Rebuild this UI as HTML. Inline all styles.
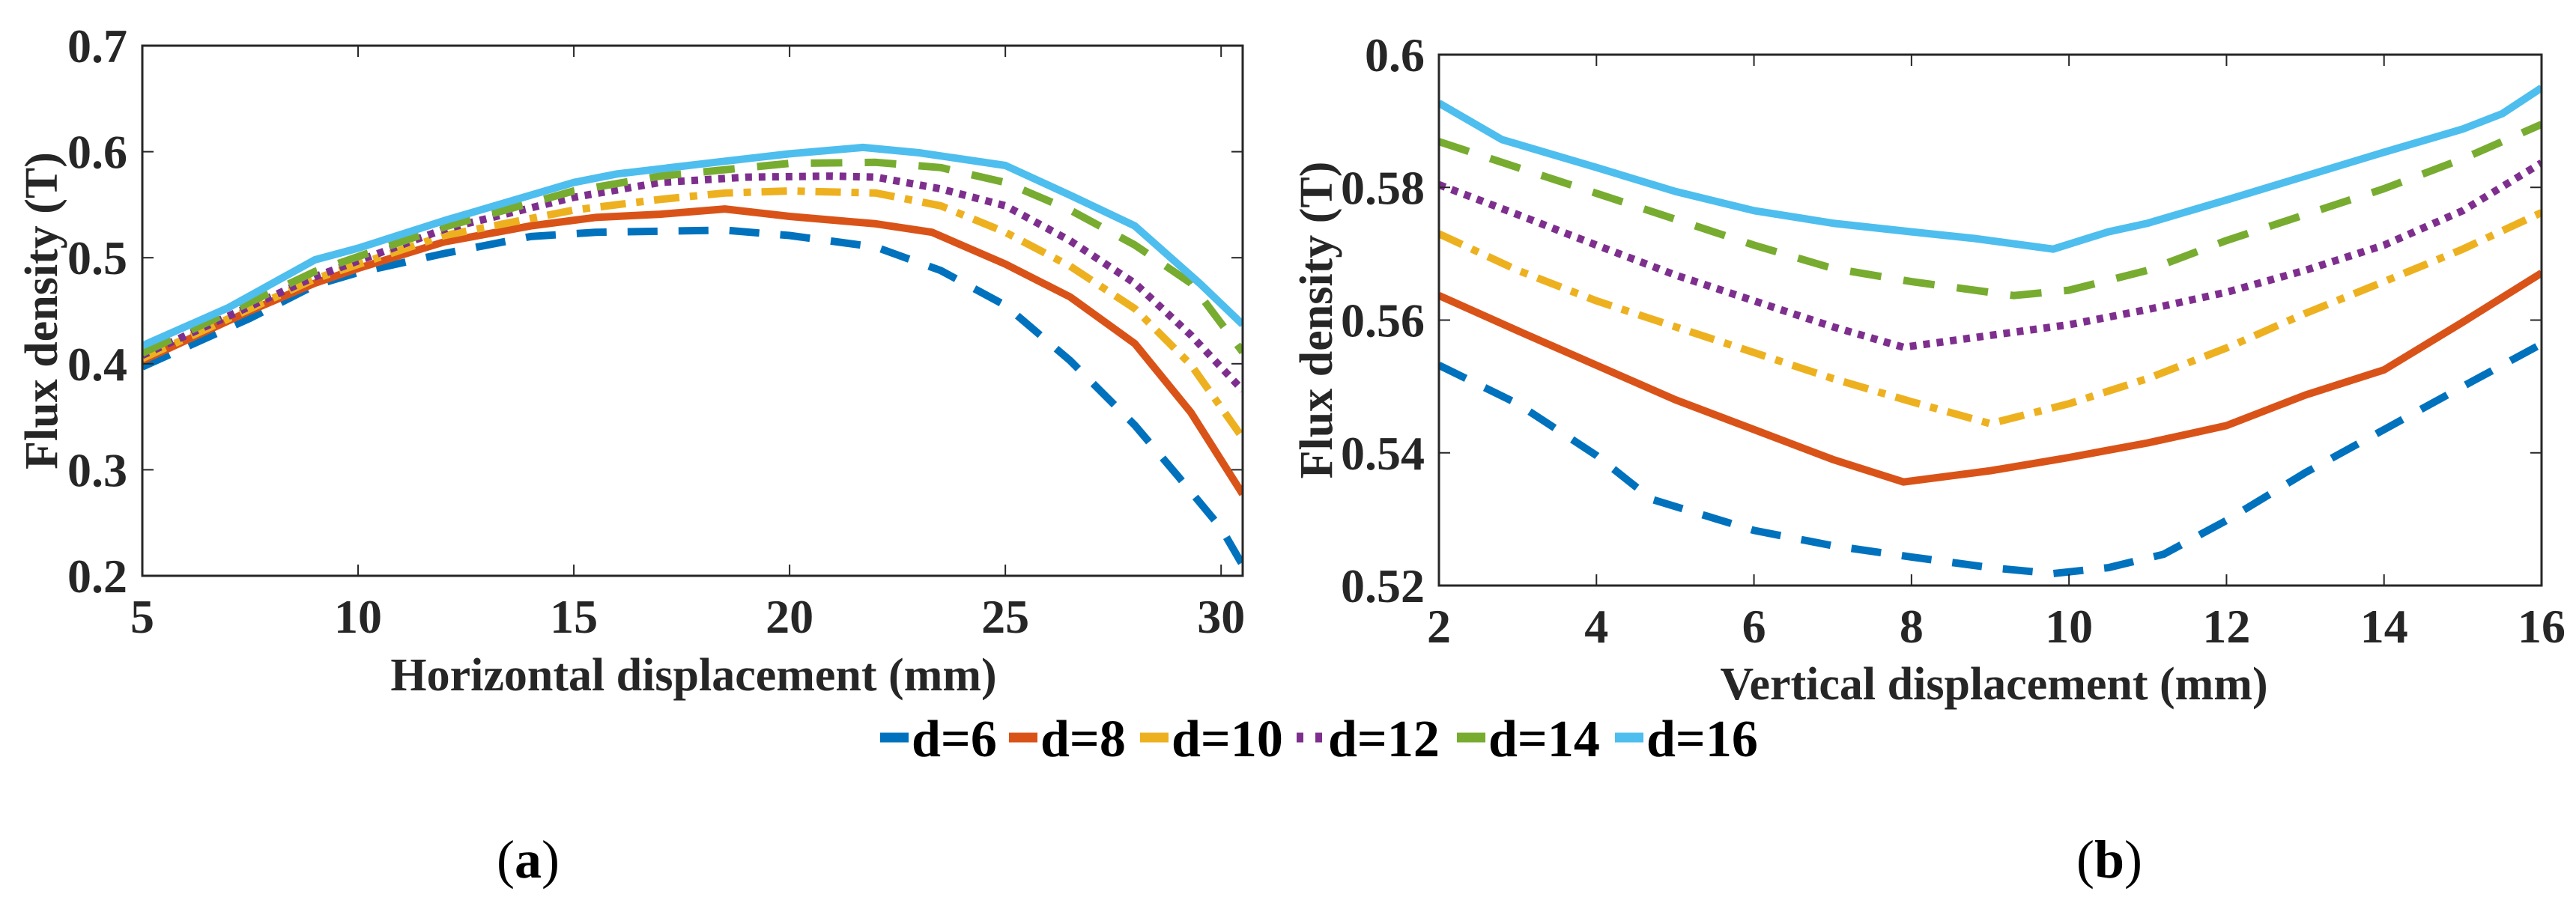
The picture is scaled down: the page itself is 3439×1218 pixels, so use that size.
<!DOCTYPE html>
<html><head><meta charset="utf-8"><style>
html,body{margin:0;padding:0;background:#fff;}
svg{display:block;font-family:"Liberation Serif",serif;}
</style></head><body>
<svg id="fig" width="3439" height="1218" viewBox="0 0 3439 1218" xmlns="http://www.w3.org/2000/svg">
<g id="chartA"></g>
<g id="chartB"></g>
<g id="legend"></g>
<text x="705" y="1172" font-size="72" text-anchor="middle" fill="#000">(<tspan font-weight="bold">a</tspan>)</text>
<text x="2816" y="1172" font-size="72" text-anchor="middle" fill="#000">(<tspan font-weight="bold">b</tspan>)</text>
</svg>
<script>
const seriesNames = ["d=6","d=8","d=10","d=12","d=14","d=16"];
const colors = ["#0072BD","#D95319","#EDB120","#7E2F8E","#77AC30","#4DBEEE"];
const dashes = ["40 28","none","34 14 10 14","9 9","42 30","none"];

const aTicksX = [5,10,15,20,25,30];
const aTicksY = [0.2,0.3,0.4,0.5,0.6,0.7];
const aX6 = [5,7.5,9,10,12,14,15.5,18.5,20,22,23.5,25,26.5,28,29,30,30.5];
const aY6 = [0.397,0.443,0.474,0.486,0.504,0.520,0.524,0.526,0.521,0.510,0.488,0.455,0.403,0.342,0.294,0.245,0.210];
const aX8 = [5,7.5,9,10,12,14,15.5,17,18.5,20,22,23.3,25,26.5,28,29.3,30.5];
const aY8 = [0.403,0.450,0.476,0.490,0.515,0.530,0.538,0.541,0.546,0.539,0.532,0.524,0.494,0.463,0.419,0.354,0.277];
const aX10 = [5,9,12,15,17,18.5,20,22,23.5,25,26.5,28,29.3,30.5];
const aY10 = [0.405,0.480,0.521,0.545,0.555,0.561,0.563,0.561,0.549,0.524,0.492,0.452,0.399,0.330];
const aX12 = [5,9,12,15,17,19,21,22,23.5,25,26.5,28,29.3,30.5];
const aY12 = [0.408,0.482,0.527,0.557,0.571,0.576,0.577,0.576,0.565,0.549,0.516,0.476,0.427,0.375];
const aX14 = [5,9,12,15,17,18.5,20,22,23.5,25,26.5,28,29.3,30.5];
const aY14 = [0.410,0.487,0.529,0.563,0.577,0.583,0.589,0.590,0.585,0.571,0.545,0.512,0.476,0.411];
const aX16 = [5,7,9,10,12,14,15,16,18.5,20,21.7,23,25,26.5,28,29.5,30.5];
const aY16 = [0.417,0.453,0.498,0.509,0.535,0.559,0.571,0.579,0.591,0.598,0.604,0.599,0.587,0.559,0.530,0.476,0.437];

const bTicksX = [2,4,6,8,10,12,14,16];
const bTicksY = [0.52,0.54,0.56,0.58,0.6];
const bX6 = [2,3,4,4.7,6,7,8,9,9.8,10.5,11.2,12,13,14,15,16];
const bY6 = [0.5532,0.5474,0.5396,0.533,0.5283,0.526,0.5243,0.5227,0.5218,0.5227,0.5247,0.5298,0.537,0.5435,0.550,0.5564];
const bX8 = [2,3,4,5,6,7,7.9,9,10,11,12,13,14,15,16];
const bY8 = [0.5637,0.5584,0.5532,0.548,0.5435,0.539,0.5356,0.5373,0.5393,0.5415,0.5441,0.5487,0.5525,0.5597,0.5671];
const bX10 = [2,3,4,5,6,7,8,9,10,11,12,13,14,15,16];
const bY10 = [0.573,0.5675,0.5629,0.559,0.5551,0.5512,0.5477,0.5444,0.5474,0.5512,0.5558,0.561,0.5658,0.5707,0.5762];
const bX12 = [2,3,4,5,6,7,7.9,9,10,11,12,13,14,15,16];
const bY12 = [0.5804,0.5759,0.5713,0.5668,0.5629,0.559,0.5559,0.5577,0.5593,0.5616,0.5642,0.5675,0.5713,0.5765,0.5837];
const bX14 = [2,3,4,5,6,7,8,9.3,10,11,12,13,14,15,16];
const bY14 = [0.5869,0.583,0.5791,0.5752,0.5713,0.5678,0.5658,0.5637,0.5645,0.5675,0.572,0.5759,0.5798,0.5843,0.5895];
const bX16 = [2,2.8,4,5,6,7,8,8.8,9.8,10.5,11,12,13,14,15,15.5,16];
const bY16 = [0.5927,0.5872,0.583,0.5794,0.5765,0.5746,0.5733,0.5723,0.5707,0.5733,0.5746,0.5781,0.5817,0.5853,0.5888,0.5911,0.595];

const NS = "http://www.w3.org/2000/svg";
function mk(tag, attrs, parent){const e=document.createElementNS(NS,tag);for(const k in attrs)e.setAttribute(k,attrs[k]);parent.appendChild(e);return e;}

function drawChart(g, cfg){
  const {L,R,T,B,xmin,xmax,ymin,ymax,ticksX,ticksY,xs,ys,xlabel,ylabelX,yfmt,xlabelX,xlabelY,xtickY,ytickX} = cfg;
  const sx = v => L + (v - xmin) / (xmax - xmin) * (R - L);
  const sy = v => B - (v - ymin) / (ymax - ymin) * (B - T);
  const clip = mk("clipPath",{id:g.id+"-clip"},g);
  mk("rect",{x:L,y:T,width:R-L,height:B-T},clip);
  for(let i=0;i<xs.length;i++){
    const pts = xs[i].map((x,j)=>sx(x).toFixed(1)+","+sy(ys[i][j]).toFixed(1)).join(" ");
    const pl = mk("polyline",{points:pts,fill:"none",stroke:colors[i],"stroke-width":10,"stroke-linejoin":"round","clip-path":"url(#"+g.id+"-clip)"},g);
    if(dashes[i]!=="none") pl.setAttribute("stroke-dasharray",dashes[i]);
    
    
  }
  const frame = mk("rect",{x:L,y:T,width:R-L,height:B-T,fill:"none",stroke:"#262626","stroke-width":3},g);
  
  
  ticksX.forEach(v=>{
    const x=sx(v);
    mk("line",{x1:x,y1:B,x2:x,y2:B-15,stroke:"#262626","stroke-width":2},g);
    mk("line",{x1:x,y1:T,x2:x,y2:T+15,stroke:"#262626","stroke-width":2},g);
    const t=mk("text",{x:x,y:xtickY,"font-size":64,"font-weight":"bold","text-anchor":"middle",fill:"#262626"},g);
    t.textContent=String(v);
    
    
  });
  ticksY.forEach(v=>{
    const y=sy(v);
    mk("line",{x1:L,y1:y,x2:L+15,y2:y,stroke:"#262626","stroke-width":2},g);
    mk("line",{x1:R,y1:y,x2:R-15,y2:y,stroke:"#262626","stroke-width":2},g);
    const t=mk("text",{x:ytickX,y:y+22,"font-size":64,"font-weight":"bold","text-anchor":"end",fill:"#262626"},g);
    t.textContent=yfmt(v);
    
    
  });
  const xl=mk("text",{x:xlabelX,y:xlabelY,"font-size":62,"font-weight":"bold","text-anchor":"middle",fill:"#262626"},g);
  xl.textContent=xlabel;
  
  
  const cy=(T+B)/2;
  const yl=mk("text",{x:ylabelX,y:cy,"font-size":62,"font-weight":"bold","text-anchor":"middle",fill:"#262626",transform:"rotate(-90 "+ylabelX+" "+cy+")"},g);
  yl.textContent="Flux density (T)";
  
  
}

drawChart(document.getElementById("chartA"),{L:190,R:1659,T:61,B:769,xmin:5,xmax:30.5,ymin:0.2,ymax:0.7,
  ticksX:aTicksX,ticksY:aTicksY,xs:[aX6,aX8,aX10,aX12,aX14,aX16],ys:[aY6,aY8,aY10,aY12,aY14,aY16],
  xlabel:"Horizontal displacement (mm)",xlabelX:926,xlabelY:922,xtickY:845,ytickX:170,ylabelX:76,yfmt:v=>v.toFixed(1)});
drawChart(document.getElementById("chartB"),{L:1921,R:3393,T:73,B:782,xmin:2,xmax:16,ymin:0.52,ymax:0.6,
  ticksX:bTicksX,ticksY:bTicksY,xs:[bX6,bX8,bX10,bX12,bX14,bX16],ys:[bY6,bY8,bY10,bY12,bY14,bY16],
  xlabel:"Vertical displacement (mm)",xlabelX:2662,xlabelY:934,xtickY:858,ytickX:1902,ylabelX:1778,yfmt:v=>v===0.6?"0.6":v.toFixed(2)});

const lg=document.getElementById("legend");
const legendX=[1175,1347,1522,1731,1945,2156];
seriesNames.forEach((n,i)=>{
  const x=legendX[i];
  const ln=mk("line",{x1:x,y1:985,x2:x+38,y2:985,stroke:colors[i],"stroke-width":13},lg);
  if(i===3) ln.setAttribute("stroke-dasharray","9 16");
  
  
  const t=mk("text",{x:x+42,y:1010,"font-size":70,"font-weight":"bold",fill:"#000"},lg);
  t.textContent=n;
  
  
});
</script>
</body></html>
